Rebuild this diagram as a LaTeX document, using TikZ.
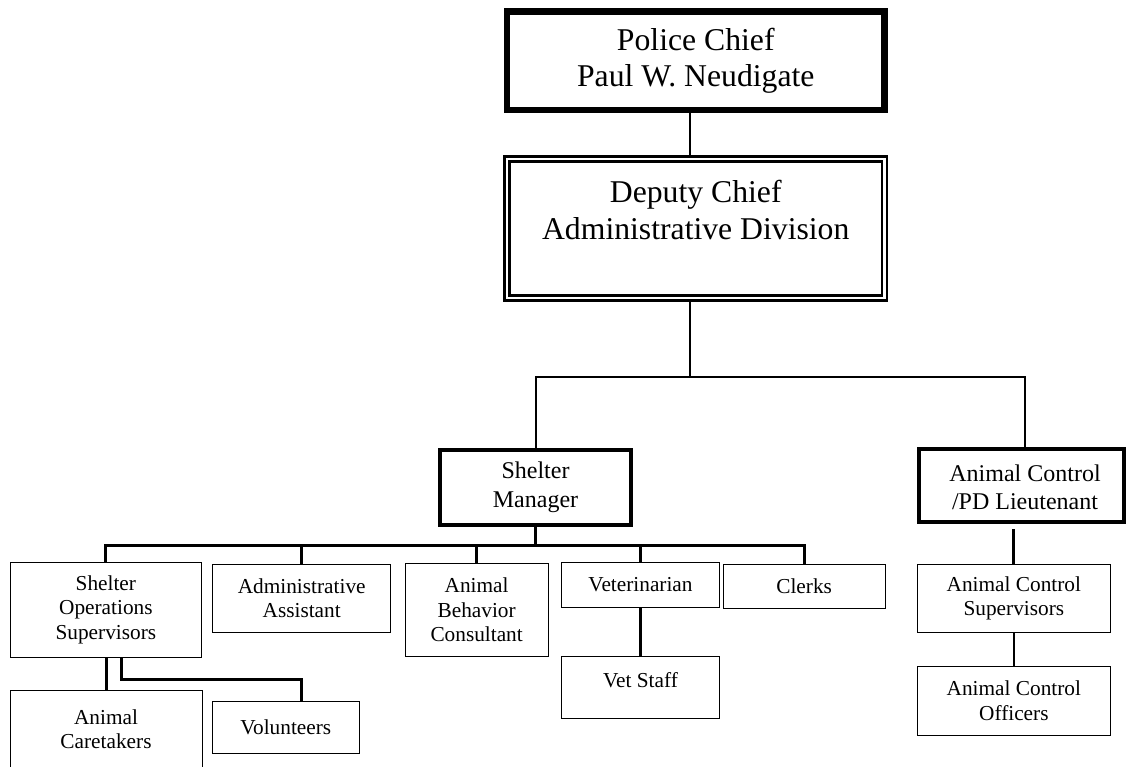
\documentclass[tikz,border=0pt]{standalone}
\usepackage{fontspec}
\setmainfont{Liberation Serif}
\usetikzlibrary{calc}
\newcommand{\bigfnt}{\fontsize{31.7pt}{36.5pt}\selectfont}
\newcommand{\midfnt}{\fontsize{24pt}{28.3pt}\selectfont}
\newcommand{\smfnt}{\fontsize{21.3pt}{24.4pt}\selectfont}
\begin{document}
\begin{tikzpicture}[x=1pt,y=-1pt,
  box/.style={draw, rectangle, inner sep=0pt, align=center, font=\smfnt, line width=1pt},
  midbox/.style={box, font=\midfnt, line width=4pt},
  chiefbox/.style={box, font=\bigfnt, line width=6.5pt},
  dblbox/.style={draw, rectangle, inner sep=0pt, line width=2.6pt, double, double distance=2.4pt},
  txt/.style={inner sep=0pt, align=center},
  conn/.style={line width=2pt},
  connb/.style={line width=3pt},
  conns/.style={line width=1.6pt}]
\clip (0,0) rectangle (1126,767);
% top
\node[chiefbox, minimum width=377.5pt, minimum height=98.3pt] (police) at (695.75,60.85) {Police Chief\\Paul W. Neudigate};
\node[dblbox, minimum width=377.5pt, minimum height=139pt] (deputy) at (695.75,228.5) {};
\node[txt, font=\bigfnt] (deputyT) at (695.75,210) {Deputy Chief\\Administrative Division};
% second level
\node[midbox, minimum width=191.6pt, minimum height=75.3pt] (sm) at (535.5,487.35) {Shelter\\Manager};
\node[midbox, minimum width=205.3pt, minimum height=73pt] (ac) at (1021.35,485.5) {};
\node[txt, font=\midfnt] (acT) at (1025,487) {Animal Control\\/PD Lieutenant};
% shelter row
\node[box, minimum width=191.7pt, minimum height=94.3pt] (ops) at (105.85,609.85) {Shelter\\Operations\\Supervisors};
\node[box, minimum width=178pt, minimum height=68pt] (admin) at (301.7,598) {Administrative\\Assistant};
\node[box, minimum width=143.3pt, minimum height=93.7pt] (behav) at (476.65,609.85) {Animal\\Behavior\\Consultant};
\node[box, minimum width=157.6pt, minimum height=44.6pt] (vet) at (640.5,585) {Veterinarian};
\node[box, minimum width=161.7pt, minimum height=44.3pt] (clerks) at (804.15,586.15) {Clerks};
\node[box, minimum width=157.6pt, minimum height=61.6pt] (vetstaff) at (640.5,687.5) {};
\node[txt, font=\smfnt] (vetstaffT) at (640.5,680) {Vet Staff};
\node[box, minimum width=192pt, minimum height=77.3pt] (care) at (106,729.35) {Animal\\Caretakers};
\node[box, minimum width=146.3pt, minimum height=51.6pt] (vol) at (285.85,727.5) {Volunteers};
% animal control column
\node[box, minimum width=192.3pt, minimum height=68.7pt] (acsup) at (1013.85,598.35) {Animal Control\\Supervisors};
\node[box, minimum width=192.3pt, minimum height=68.3pt] (acoff) at (1013.85,700.85) {Animal Control\\Officers};
% helper coordinates
\coordinate (cA) at (690,0);
\coordinate (cR) at (1025,0);
\coordinate (bus1) at (0,376.7);
\coordinate (bus2) at (0,545.5);
\coordinate (vA) at (121,679.3);
\coordinate (vB) at (301.7,679.3);
% connectors
\draw[conn] (police.south -| cA) -- (deputy.north -| cA);
\draw[conn] (deputy.south -| cA) -- (bus1 -| cA);
\draw[conn] (sm.north) |- (bus1 -| cR) -- (ac.north -| cR);
\draw[connb] (sm.south) -- (bus2 -| sm.south);
\draw[connb] (ops.north) |- (bus2 -| clerks.north) -- (clerks.north);
\draw[connb] (admin.north) -- (bus2 -| admin.north);
\draw[connb] (behav.north) -- (bus2 -| behav.north);
\draw[connb] (vet.north) -- (bus2 -| vet.north);
\draw[connb] (vet.south) -- (vetstaff.north);
\draw[connb] (ops.south -| care.north) -- (care.north);
\draw[connb] (ops.south -| vA) -- (vA) -- (vB) -- (vol.north -| vB);
\draw[connb, shorten <=5pt] (ac.south -| acsup.north) -- (acsup.north);
\draw[conns] (acsup.south) -- (acoff.north);
\end{tikzpicture}
\end{document}
